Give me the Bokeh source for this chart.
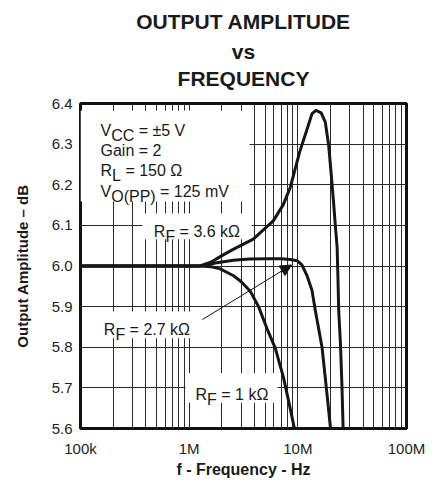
import math
from bokeh.plotting import figure
from bokeh.models import (Range1d, FixedTicker, CustomJSTickFormatter, Label, Title,
                          BoxAnnotation, Arrow, NormalHead, PrintfTickFormatter)
from bokeh.embed import file_html
from bokeh.resources import INLINE

# ---------------- data ----------------
title_lines = ["OUTPUT AMPLITUDE", "vs", "FREQUENCY"]
x_tick_values = [1e5, 1e6, 1e7, 1e8]
x_tick_labels = ["100k", "1M", "10M", "100M"]
x_minor_mult = [2, 3, 4, 5, 6, 7, 8, 9]
x_decades = [1e5, 1e6, 1e7]
y_tick_values = [5.6, 5.7, 5.8, 5.9, 6.0, 6.1, 6.2, 6.3, 6.4]

freq_1k = [1e5, 1e6, 1.26e6, 1.6e6, 1.93e6, 2.56e6, 3.0e6, 3.65e6, 4.35e6,
           5.2e6, 6.2e6, 7.4e6, 8.22e6, 9.3e6]
amp_1k = [6.0, 6.0, 6.0, 5.998, 5.993, 5.976, 5.962, 5.938, 5.9,
          5.846, 5.798, 5.724, 5.668, 5.6]

freq_27k = [1e5, 1e6, 1.26e6, 1.8e6, 2.55e6, 3.6e6, 5.24e6, 7.0e6, 8.53e6,
            9.84e6, 10.9e6, 12.2e6, 13.5e6, 14.5e6, 16.7e6, 18.3e6, 20.0e6]
amp_27k = [6.0, 6.0, 6.0, 6.008, 6.014, 6.017, 6.018, 6.018, 6.016,
           6.013, 6.003, 5.975, 5.94, 5.89, 5.8, 5.7, 5.6]

freq_36k = [1e5, 1e6, 1.26e6, 1.6e6, 1.93e6, 2.54e6, 3.89e6, 5.94e6, 7.35e6,
            8.53e6, 10.4e6, 12.2e6, 13.5e6, 14.7e6, 16.4e6, 17.9e6, 19.2e6,
            20.2e6, 21.4e6, 22.2e6, 23.0e6, 23.4e6, 23.8e6, 24.7e6, 25.5e6, 26.1e6]
amp_36k = [6.0, 6.0, 6.0, 6.01, 6.023, 6.041, 6.066, 6.111, 6.151,
           6.194, 6.281, 6.338, 6.375, 6.383, 6.377, 6.354, 6.298,
           6.232, 6.151, 6.095, 6.046, 5.968, 5.888, 5.806, 5.7, 5.6]

# ---------------- layout helpers (page pixel -> data) ----------------
FRAME_L, FRAME_T = 80.0, 103.0
DEC_PX = 326.0 / 3.0
Y_PX = 328.0 / 0.8

def px2x(px):
    return 10 ** (5 + (px - FRAME_L) / DEC_PX)

def px2y(py):
    return 6.4 - (py - FRAME_T) / Y_PX

FONT = "Liberation Sans"
TXT = "#1a1a1a"

p = figure(width=440, height=480, x_axis_type="log",
           x_range=Range1d(1e5, 1e8), y_range=Range1d(5.6, 6.4),
           output_backend="svg", toolbar_location=None, title=None,
           min_border_left=80, min_border_right=34,
           min_border_top=103, min_border_bottom=49)

# spacer between frame and the title block
p.add_layout(Title(text=" ", text_font_size="1px", standoff=11), "above")
# title lines (first added is nearest the frame)
for t, so in zip(reversed(title_lines), [0, 3, 8]):
    p.add_layout(Title(text=t, align="center", text_font=FONT, text_font_size="21px",
                       text_font_style="bold", text_color=TXT, standoff=so, offset=-3),
                 "above")

x_minor = [m * d for d in x_decades for m in x_minor_mult]
xt = FixedTicker(ticks=x_tick_values, minor_ticks=x_minor)
p.xaxis.ticker = xt
p.xgrid.ticker = xt
p.xaxis.formatter = CustomJSTickFormatter(
    args=dict(vals=x_tick_values, labs=x_tick_labels),
    code="const i = vals.findIndex(v => Math.abs(v - tick) < 1e-6 * v); return i >= 0 ? labs[i] : '';")
yt = FixedTicker(ticks=y_tick_values)
p.yaxis.ticker = yt
p.ygrid.ticker = yt
p.yaxis.formatter = PrintfTickFormatter(format="%.1f")

for ax in (p.xaxis[0], p.yaxis[0]):
    ax.axis_line_color = None
    ax.major_tick_line_color = None
    ax.minor_tick_line_color = None
    ax.major_tick_in = 0
    ax.major_tick_out = 0
    ax.minor_tick_in = 0
    ax.minor_tick_out = 0
    ax.major_label_text_font = FONT
    ax.major_label_text_font_size = "15px"
    ax.major_label_text_color = "#222222"
    ax.axis_label_text_font = FONT
    ax.axis_label_text_font_style = "bold"
    ax.axis_label_text_color = TXT

p.xaxis.major_label_standoff = 11
p.xaxis.axis_label = "f - Frequency - Hz"
p.xaxis.axis_label_text_font_size = "16px"
p.xaxis.axis_label_standoff = 1
p.yaxis.major_label_standoff = 8
p.yaxis.axis_label = "Output Amplitude – dB"
p.yaxis.axis_label_text_font_size = "15px"
p.yaxis.axis_label_standoff = 18

p.xgrid.grid_line_color = "#2a2a2a"
p.xgrid.grid_line_width = 1
p.xgrid.minor_grid_line_color = "#2a2a2a"
p.xgrid.minor_grid_line_width = 1
p.ygrid.grid_line_color = "#2a2a2a"
p.ygrid.grid_line_width = 1

p.outline_line_color = "#111111"
p.outline_line_width = 3
p.background_fill_color = "white"
p.border_fill_color = "white"

# white boxes behind annotations (hide grid)
for (l, r, t, b) in [(80, 249, 110, 202), (142, 251, 214, 240),
                     (100, 197, 313, 340), (185, 277, 375, 405)]:
    p.add_layout(BoxAnnotation(left=px2x(l), right=px2x(r), top=px2y(t), bottom=px2y(b),
                               fill_color="white", fill_alpha=1.0, line_alpha=0,
                               level="underlay"))

# curves
for fx, ay in [(freq_1k, amp_1k), (freq_27k, amp_27k), (freq_36k, amp_36k)]:
    p.line(fx, ay, line_width=3, color="#161616", line_join="round", line_cap="round")

def lab(px, py, text, size="16px", bold=False, align="left"):
    p.add_layout(Label(x=px2x(px), y=px2y(py), text=text, text_align=align,
                       text_baseline="alphabetic", text_font=FONT,
                       text_font_size=size, text_color=TXT,
                       text_font_style="bold" if bold else "normal"))

# condition block
lab(100, 130, "V"); lab(110.7, 135, "CC"); lab(138.2, 130, "= ±5 V")
lab(100, 150, "Gain = 2")
lab(100, 171, "R"); lab(111.55, 176, "L"); lab(124.9, 171, "= 150 Ω")
lab(100, 192, "V"); lab(110.7, 197, "O(PP)"); lab(159.5, 192, "= 125 mV")

# curve labels
lab(153.3, 232, "R"); lab(164.9, 237, "F"); lab(179.1, 232, "= 3.6 kΩ")
lab(103.3, 331, "R"); lab(114.9, 336, "F"); lab(129.1, 331, "= 2.7 kΩ")
lab(195.0, 397, "R"); lab(206.6, 402, "F"); lab(220.8, 397, "= 1 kΩ")

p.add_layout(Arrow(end=NormalHead(size=11, fill_color="#111111", line_color="#111111"),
                   x_start=px2x(202), y_start=px2y(321),
                   x_end=px2x(291), y_end=px2y(266),
                   line_width=1, line_color="#111111"))

open("out.html", "w").write(file_html(p, INLINE))
